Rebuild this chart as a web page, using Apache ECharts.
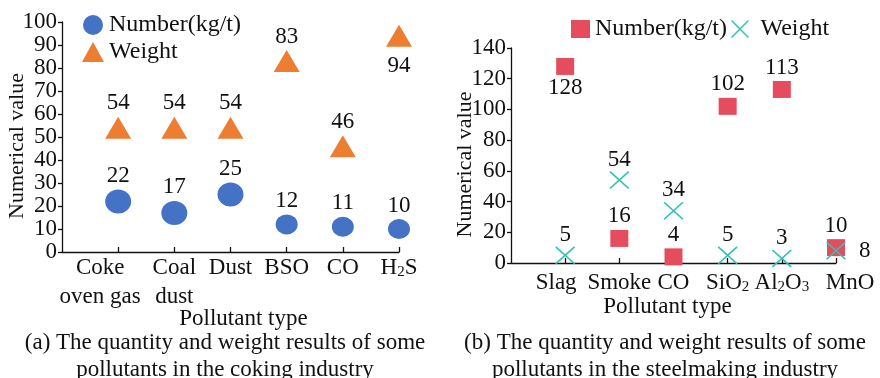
<!DOCTYPE html>
<html>
<head>
<meta charset="utf-8">
<script src="https://cdn.jsdelivr.net/npm/echarts@6/dist/echarts.min.js"></script>
<style>
  html, body { margin: 0; padding: 0; background: #fff; }
  #wrap { position: relative; width: 880px; height: 378px; }
  .chart { position: absolute; top: 0; width: 440px; height: 378px; }
</style>
</head>
<body>
<div id="wrap">
  <div id="left" class="chart" style="left:0"></div>
  <div id="right" class="chart" style="left:440px"></div>
</div>
<script>
// (a) coking industry
const cokingTypes = ['Coke\noven gas', 'Coal\ndust', 'Dust', 'BSO', 'CO', 'H{sub|2}S']
const cokingNumber = [22, 17, 25, 12, 11, 10]
const cokingWeight = [54, 54, 54, 83, 46, 94]
const cokingTicks = [0, 10, 20, 30, 40, 50, 60, 70, 80, 90, 100]

// (b) steelmaking industry
const steelTypes = ['Slag', 'Smoke', 'CO', 'SiO{sub|2}', 'Al{sub|2}O{sub|3}', 'MnO']
const steelNumber = [128, 16, 4, 102, 113, 10]
const steelWeight = [5, 54, 34, 5, 3, 8]
const steelTicks = [0, 20, 40, 60, 80, 100, 120, 140]

const FONT = '"Liberation Serif", "Times New Roman", serif'
const INK = '#111'
const FS = 23
const CROSS = 'path://M0,0.6L0.6,0L10,9.4L9.4,10Z M9.4,0L10,0.6L0.6,10L0,9.4Z'

const SUB = { fontSize: 15, fontFamily: FONT, color: INK, padding: [9, 0, 0, 0] }

function labelStyle(position, distance) {
  return { show: true, position, distance, fontSize: FS, color: INK, fontFamily: FONT }
}

function yAxis(ticks, nameGap) {
  return {
    type: 'value',
    min: ticks[0],
    max: ticks[ticks.length - 1],
    interval: ticks[1] - ticks[0],
    name: 'Numerical value',
    nameLocation: 'middle',
    nameGap,
    nameMoveOverlap: false,
    nameTextStyle: { fontSize: 22, color: INK, fontFamily: FONT, padding: [0, 18, 0, 0] },
    axisLine: { show: true, lineStyle: { color: INK, width: 1.3 } },
    axisTick: { show: true, length: 4, lineStyle: { color: INK, width: 1.3 } },
    axisLabel: { fontSize: FS, color: INK, fontFamily: FONT, margin: 5 },
    splitLine: { show: false }
  }
}

function xAxis(types, nameGap, namePad, margin, firstPad, lastPad) {
  const last = types.length - 1
  const data = [''].concat(types.map((t, i) => {
    if (i === 0 && firstPad) return { value: t, textStyle: { padding: firstPad } }
    if (i === last && lastPad) return { value: t, textStyle: { padding: lastPad } }
    return t
  }))
  return {
    type: 'category',
    boundaryGap: false,
    data,
    name: 'Pollutant type',
    nameLocation: 'middle',
    nameGap,
    nameMoveOverlap: false,
    nameTextStyle: { fontSize: FS, color: INK, fontFamily: FONT, padding: namePad },
    axisLine: { lineStyle: { color: INK, width: 1.3 } },
    axisTick: { inside: true, length: 5, interval: (idx) => idx > 0, lineStyle: { color: INK, width: 1.3 } },
    axisLabel: {
      interval: 0, fontSize: FS, color: INK, fontFamily: FONT, lineHeight: 29, margin,
      rich: { sub: SUB }
    }
  }
}

function caption(text) {
  return {
    text,
    left: 225,
    top: 329,
    textAlign: 'center',
    padding: 0,
    textStyle: { fontSize: FS, fontWeight: 'normal', color: INK, fontFamily: FONT, lineHeight: 27 }
  }
}

const leftChart = echarts.init(document.getElementById('left'))
leftChart.setOption({
  animation: false,
  textStyle: { fontFamily: FONT },
  title: caption('(a) The quantity and weight results of some\npollutants in the coking industry'),
  grid: { left: 62, top: 22, width: 337, height: 230, containLabel: false, outerBoundsMode: 'none' },
  legend: {
    orient: 'vertical',
    left: 77,
    top: 8,
    itemWidth: 22,
    itemHeight: 20,
    itemGap: 3,
    textStyle: { fontSize: 24, color: INK, fontFamily: FONT },
    data: ['Number(kg/t)', 'Weight']
  },
  xAxis: xAxis(cokingTypes, 55, [0, 0, 0, 26], 1, [0, 36, 0, 0], null),
  yAxis: yAxis(cokingTicks, 34),
  series: [
    {
      name: 'Number(kg/t)',
      type: 'scatter',
      symbol: 'circle',
      symbolSize: (val, p) => p.dataIndex < 3 ? [26, 24] : [22, 20],
      itemStyle: { color: '#4472C4', opacity: 1 },
      label: labelStyle('top', 2),
      data: cokingNumber.map((v, i) => [i + 1, v])
    },
    {
      name: 'Weight',
      type: 'scatter',
      symbol: 'triangle',
      symbolSize: [26, 22],
      itemStyle: { color: '#ED7D31', opacity: 1 },
      label: labelStyle('top', 2),
      data: cokingWeight.map((v, i) => i === 5
        ? { value: [i + 1, v], label: { position: 'bottom', distance: 8 } }
        : [i + 1, v])
    }
  ]
})

const rightChart = echarts.init(document.getElementById('right'))
rightChart.setOption({
  animation: false,
  textStyle: { fontFamily: FONT },
  title: caption('(b) The quantity and weight results of some\npollutants in the steelmaking industry'),
  grid: { left: 71, top: 48, width: 325, height: 215, containLabel: false, outerBoundsMode: 'none' },
  legend: {
    orient: 'horizontal',
    left: 126,
    top: 12,
    itemWidth: 19,
    itemHeight: 18,
    itemGap: 4,
    formatter: (name) => name === 'Weight' ? ' ' + name : name,
    textStyle: { fontSize: 24, color: INK, fontFamily: FONT },
    data: ['Number(kg/t)', 'Weight']
  },
  xAxis: xAxis(steelTypes, 32, [0, 12, 0, 0], 5, [0, 18, 0, 0], [0, 0, 0, 28]),
  yAxis: yAxis(steelTicks, 35),
  series: [
    {
      name: 'Number(kg/t)',
      type: 'scatter',
      symbol: 'rect',
      symbolSize: [18, 17],
      itemStyle: { color: '#E54D5F', opacity: 1 },
      label: labelStyle('top', 2),
      data: steelNumber.map((v, i) => i === 0
        ? { value: [i + 1, v], label: { position: 'bottom', distance: 2 } }
        : [i + 1, v])
    },
    {
      name: 'Weight',
      type: 'scatter',
      symbol: CROSS,
      symbolSize: [20, 18],
      itemStyle: { color: '#33C3B5', opacity: 1 },
      label: labelStyle('top', 0),
      data: steelWeight.map((v, i) => i === 5
        ? { value: [i + 1, v], label: { position: 'right', distance: 13 } }
        : [i + 1, v])
    }
  ]
})
</script>
</body>
</html>
